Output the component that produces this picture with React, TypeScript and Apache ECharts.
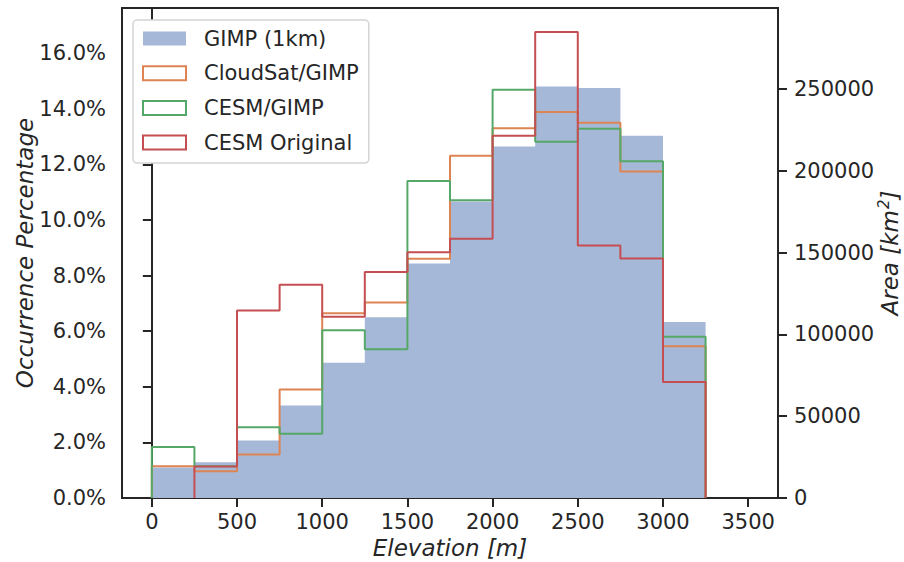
import React, { useEffect, useRef } from "react";
import * as echarts from "echarts";

// Bin edges of the elevation histogram [m]
const binEdges = [0, 250, 500, 750, 1000, 1250, 1500, 1750, 2000, 2250, 2500, 2750, 3000, 3250];
// Occurrence percentage per bin
const gimp1km = [1.10, 1.29, 2.07, 3.33, 4.86, 6.50, 8.43, 10.66, 12.64, 14.80, 14.74, 13.03, 6.33];
const cloudsatGimp = [1.14, 0.96, 1.56, 3.90, 6.64, 7.03, 8.60, 12.31, 13.30, 13.88, 13.49, 11.74, 5.46];
const cesmGimp = [1.83, 1.14, 2.54, 2.31, 6.03, 5.35, 11.40, 10.71, 14.68, 12.81, 13.28, 12.11, 5.80];
const cesmOriginal = [0, 1.13, 6.74, 7.67, 6.52, 8.13, 8.84, 9.32, 13.03, 16.76, 9.08, 8.61, 4.17];

const seriesNames = ["GIMP (1km)", "CloudSat/GIMP", "CESM/GIMP", "CESM Original"];

// Tick values
const xTicks = [0, 500, 1000, 1500, 2000, 2500, 3000, 3500];
const yLeftTicks = [0, 2, 4, 6, 8, 10, 12, 14, 16];
const yRightTicks = [0, 50000, 100000, 150000, 200000, 250000];

const KM2_PER_PERCENT = 17000;
const Y_MAX = 17.62;

function stepPoints(values: number[]) {
  const pts: number[][] = [];
  let start = 0;
  while (start < values.length && values[start] === 0) start++;
  pts.push([binEdges[start], 0]);
  for (let i = start; i < values.length; i++) {
    pts.push([binEdges[i], values[i]]);
    pts.push([binEdges[i + 1], values[i]]);
  }
  pts.push([binEdges[values.length], 0]);
  return pts;
}

const FONT = "DejaVu Sans";
const DARK = "#262626";
const COLORS = { fill: "#a6b8d7", orange: "#DD8452", green: "#55A868", red: "#C44E52" };

export default function App() {
  const ref = useRef<HTMLDivElement>(null);
  useEffect(() => {
    if (!ref.current) return;
    const chart = echarts.init(ref.current, null, { renderer: "svg" });
    const axisCommon = {
      axisLine: { show: true, lineStyle: { color: DARK, width: 2 } },
      axisTick: { show: true, length: 9, inside: false, lineStyle: { color: DARK, width: 2 } },
      splitLine: { show: false },
    };
    const stepSeries = (name: string, vals: number[], color: string, z: number) => ({
      name,
      type: "line",
      data: stepPoints(vals),
      showSymbol: false,
      symbol: "none",
      silent: true,
      z,
      lineStyle: { color, width: 2 },
      itemStyle: { color },
    });
    chart.setOption({
      animation: false,
      textStyle: { fontFamily: FONT },
      grid: {
        left: 122, right: 126, top: 8, bottom: 64,
        outerBoundsMode: "none",
        containLabel: false,
        show: true, borderColor: DARK, borderWidth: 2, backgroundColor: "transparent",
      },
      graphic: [
        {
          type: "text",
          x: 24.5,
          y: 253,
          rotation: Math.PI / 2,
          silent: true,
          style: {
            text: "Occurrence Percentage",
            align: "center",
            verticalAlign: "middle",
            fill: DARK,
            fontSize: 23,
            fontStyle: "italic",
            fontFamily: FONT,
          },
        },
        {
          type: "text",
          x: 890,
          y: 253,
          rotation: Math.PI / 2,
          silent: true,
          style: {
            text: "{a|Area [km}{s|2}{a|]}",
            align: "center",
            verticalAlign: "middle",
            fill: DARK,
            rich: {
              a: { fontSize: 23, fontStyle: "italic", fill: DARK, fontFamily: FONT },
              s: { fontSize: 15, fontStyle: "italic", fill: DARK, fontFamily: FONT, padding: [0, 0, 12, 1] },
            },
          },
        },
      ],
      legend: {
        orient: "vertical",
        left: 133,
        top: 20,
        selectedMode: false,
        itemWidth: 43,
        itemHeight: 14,
        itemGap: 13.7,
        padding: [8, 10, 10, 9],
        backgroundColor: "#ffffff",
        borderColor: "#d4d4d4",
        borderWidth: 1.5,
        borderRadius: 4,
        textStyle: { fontSize: 21, color: DARK, fontFamily: FONT, padding: [0, 0, 0, 13] },
        data: [
          { name: seriesNames[0], icon: "rect", itemStyle: { color: COLORS.fill, borderWidth: 0 } },
          { name: seriesNames[1], icon: "rect", itemStyle: { color: "#ffffff", borderColor: COLORS.orange, borderWidth: 2 } },
          { name: seriesNames[2], icon: "rect", itemStyle: { color: "#ffffff", borderColor: COLORS.green, borderWidth: 2 } },
          { name: seriesNames[3], icon: "rect", itemStyle: { color: "#ffffff", borderColor: COLORS.red, borderWidth: 2 } },
        ],
      },
      xAxis: {
        type: "value",
        min: -175,
        max: 3675,
        ...axisCommon,
        axisTick: { ...axisCommon.axisTick, customValues: xTicks },
        axisLabel: {
          customValues: xTicks,
          margin: 13,
          fontSize: 21,
          color: DARK,
          fontFamily: FONT,
          formatter: (v: number) => String(v),
        },
        name: "Elevation [m]",
        nameLocation: "middle",
        nameGap: 37,
        nameTextStyle: { fontSize: 23, fontStyle: "italic", color: DARK, fontFamily: FONT },
      },
      yAxis: [
        {
          type: "value",
          position: "left",
          min: 0,
          max: Y_MAX,
          ...axisCommon,
          axisTick: { ...axisCommon.axisTick, customValues: yLeftTicks },
          axisLabel: {
            customValues: yLeftTicks,
            margin: 16,
            fontSize: 21,
            color: DARK,
            fontFamily: FONT,
            formatter: (v: number) => v.toFixed(1) + "%",
          },
        },
        {
          type: "value",
          position: "right",
          min: 0,
          max: Y_MAX * KM2_PER_PERCENT,
          ...axisCommon,
          axisTick: { ...axisCommon.axisTick, customValues: yRightTicks },
          axisLabel: {
            customValues: yRightTicks,
            margin: 16,
            fontSize: 21,
            color: DARK,
            fontFamily: FONT,
            formatter: (v: number) => String(Math.round(v)),
          },
        },
      ],
      series: [
        {
          name: seriesNames[0],
          type: "line",
          data: stepPoints(gimp1km),
          showSymbol: false,
          symbol: "none",
          silent: true,
          z: 1,
          lineStyle: { width: 0, color: COLORS.fill },
          itemStyle: { color: COLORS.fill },
          areaStyle: { color: COLORS.fill, opacity: 1 },
        },
        stepSeries(seriesNames[1], cloudsatGimp, COLORS.orange, 2),
        stepSeries(seriesNames[2], cesmGimp, COLORS.green, 3),
        stepSeries(seriesNames[3], cesmOriginal, COLORS.red, 4),
      ],
    });
    return () => chart.dispose();
  }, []);
  return (
    <div
      ref={ref}
      style={{ position: "fixed", left: 0, top: 0, width: 904, height: 562, background: "#fff" }}
    />
  );
}
